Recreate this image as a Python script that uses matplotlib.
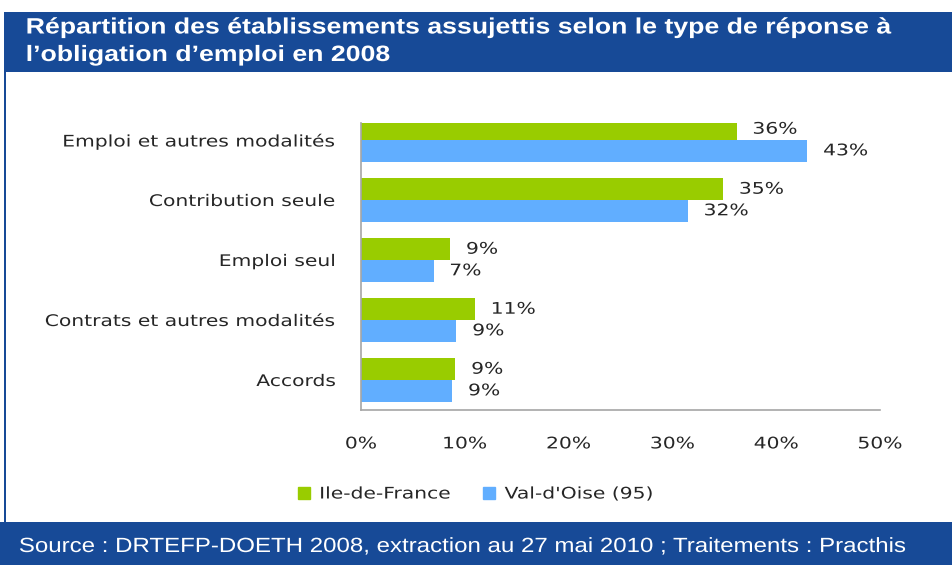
import matplotlib

matplotlib.use("Agg")

import matplotlib.pyplot as plt
from matplotlib.patches import Rectangle
from matplotlib.lines import Line2D
from matplotlib.patheffects import AbstractPathEffect
from matplotlib.transforms import Affine2D

# ---------------------------------------------------------------------------
# Data
# ---------------------------------------------------------------------------
categories = [
    "Emploi et autres modalités",
    "Contribution seule",
    "Emploi seul",
    "Contrats et autres modalités",
    "Accords",
]
idf = [36.2, 34.9, 8.6, 11.0, 9.1]       # Ile-de-France
vdo = [43.0, 31.5, 7.0, 9.2, 8.8]        # Val-d'Oise (95)
series_names = ["Ile-de-France", "Val-d'Oise (95)"]
x_ticks = [0, 10, 20, 30, 40, 50]

TITLE_LINES = [
    "Répartition des établissements assujettis selon le type de réponse à",
    "l’obligation d’emploi en 2008",
]
SOURCE = "Source : DRTEFP-DOETH 2008, extraction au 27 mai 2010 ; Traitements : Practhis"

# ---------------------------------------------------------------------------
# Style
# ---------------------------------------------------------------------------
W, H = 952, 565
BAND = "#174a97"
GREEN = "#99cc00"
BLUE = "#61aeff"
TXT = "#262626"
FS = 11.5
SX = 1.27   # the source image is stretched horizontally


class HStretch(AbstractPathEffect):
    """Draw text widened horizontally around its left/center/right edge."""

    def __init__(self, sx, anchor="left"):
        super().__init__()
        self.sx = sx
        self.anchor = anchor

    def draw_path(self, renderer, gc, tpath, affine, rgbFace=None):
        ext = tpath.get_extents(affine)
        x0 = {"left": ext.x0, "center": (ext.x0 + ext.x1) / 2, "right": ext.x1}[self.anchor]
        st = Affine2D().translate(-x0, 0).scale(self.sx, 1).translate(x0, 0)
        renderer.draw_path(gc, tpath, affine + st, rgbFace)


fig = plt.figure(figsize=(W / 100, H / 100), dpi=100)

# header / footer bands and left border
fig.add_artist(Rectangle((4 / W, 1 - 72 / H), 1, 60 / H, transform=fig.transFigure,
                         facecolor=BAND, edgecolor="none"))
fig.add_artist(Rectangle((0, 0), 1, 43 / H, transform=fig.transFigure,
                         facecolor=BAND, edgecolor="none"))
fig.add_artist(Rectangle((4 / W, 43 / H), 2 / W, (H - 72 - 43) / H, transform=fig.transFigure,
                         facecolor=BAND, edgecolor="none"))

for line, base in zip(TITLE_LINES, (33.5, 61)):
    fig.text(26 / W, 1 - base / H, line, color="white", fontsize=16, fontweight="bold",
             family="Liberation Sans", va="baseline", ha="left",
             path_effects=[HStretch(1.2)])
fig.text(19 / W, 13 / H, SOURCE, color="white", fontsize=14.8,
         family="Liberation Sans", va="baseline", ha="left",
         path_effects=[HStretch(1.17)])

# ---------------------------------------------------------------------------
# Bars
# ---------------------------------------------------------------------------
ax = fig.add_axes([361 / W, 1 - 410 / H, 519 / W, 287 / H])
pos = list(range(len(categories)))
h = 0.36
b1 = ax.barh([p - h / 2 for p in pos], idf, height=h, color=GREEN, edgecolor="none")
b2 = ax.barh([p + h / 2 for p in pos], vdo, height=h, color=BLUE, edgecolor="none")

for bars, vals in ((b1, idf), (b2, vdo)):
    for bar, v in zip(bars, vals):
        ax.annotate(f"{round(v):d}%", (bar.get_width(), bar.get_y() + bar.get_height() / 2),
                    xytext=(11.5, 0), textcoords="offset points", va="center", ha="left",
                    fontsize=FS, color=TXT, path_effects=[HStretch(SX)])

# 60 px per category; the plot area top cuts into the first bar, as in the source
ax.set_xlim(0, 50)
ax.set_ylim(len(categories) - 0.5, len(categories) - 0.5 - 287 / 60)
ax.set_xticks(x_ticks)
ax.set_xticklabels([f"{t}%" for t in x_ticks])
ax.set_yticks(pos)
ax.set_yticklabels(categories)
ax.tick_params(axis="both", length=0, labelsize=FS, labelcolor=TXT)
ax.tick_params(axis="x", pad=19)
ax.tick_params(axis="y", pad=18)
for t in ax.get_xticklabels():
    t.set_path_effects([HStretch(SX, "center")])
for t in ax.get_yticklabels():
    t.set_path_effects([HStretch(SX, "right")])
for s in ("top", "right"):
    ax.spines[s].set_visible(False)
for s in ("left", "bottom"):
    ax.spines[s].set_color("#a6a6a6")
    ax.spines[s].set_linewidth(1.2)

handles = [Line2D([], [], marker="s", ls="none", ms=9, color=c) for c in (GREEN, BLUE)]
leg = fig.legend(handles, series_names, loc="center left", bbox_to_anchor=(298 / W, 1 - 494 / H),
                 ncol=2, frameon=False, fontsize=FS, handletextpad=0.55, columnspacing=3.7,
                 handlelength=0.8, borderpad=0, borderaxespad=0, labelcolor=TXT)
for t in leg.get_texts():
    t.set_path_effects([HStretch(SX)])

fig.savefig("out.png", dpi=100)
